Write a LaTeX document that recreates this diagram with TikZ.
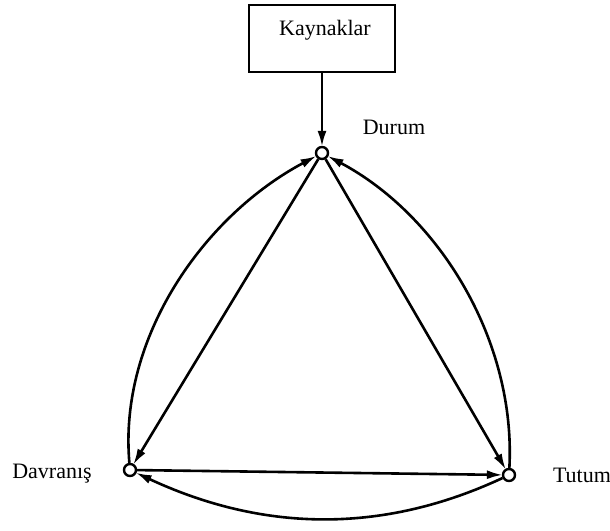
\documentclass[tikz,border=0pt]{standalone}
\usepackage{fontspec}
\setmainfont{Liberation Serif}
\usetikzlibrary{arrows.meta,calc}

\begin{document}
\begin{tikzpicture}[x=0.5pt,y=0.5pt,
    >={Latex[length=8pt,width=4.5pt]},
    vertex/.style={circle,draw,line width=1.2pt,fill=white,inner sep=0pt,minimum size=6pt},
    source/.style={rectangle,draw,line width=1.2pt,minimum width=73pt,minimum height=33.5pt},
    link/.style={->,line width=1.3pt,shorten >=-0.5pt},
    lbl/.style={font=\fontsize{11}{13}\selectfont}]
    % Frame
    \useasboundingbox (0,0) rectangle (610,530);

    % Nodes
    \node[source] (kaynak) at (322,491.5) {};
    \node[lbl] (kaynaktxt) at (325,500) {Kaynaklar};
    \node[vertex] (durum) at (322,377) {};
    \node[vertex] (davranis) at (130,60) {};
    \node[vertex] (tutum) at (509,55) {};

    % Labels
    \node[lbl] (durumtxt) at (394,403) {Durum};
    \node[lbl] (davranistxt) at (52,56) {Davranış};
    \node[lbl] (tutumtxt) at (582,55) {Tutum};

    % Straight connectors
    \draw[link] (kaynak) -- (durum);
    \draw[link] (durum) -- (davranis);
    \draw[link] (durum) -- (tutum);
    \draw[link] (davranis) -- (tutum);

    % Curved connectors
    \draw[link] (davranis) to[out=95,in=208,looseness=0.9] (durum);
    \draw[link] (tutum) to[out=87,in=-28,looseness=0.9] (durum);
    \draw[link] (tutum) to[out=205,in=-25,looseness=0.95] (davranis);
\end{tikzpicture}
\end{document}
